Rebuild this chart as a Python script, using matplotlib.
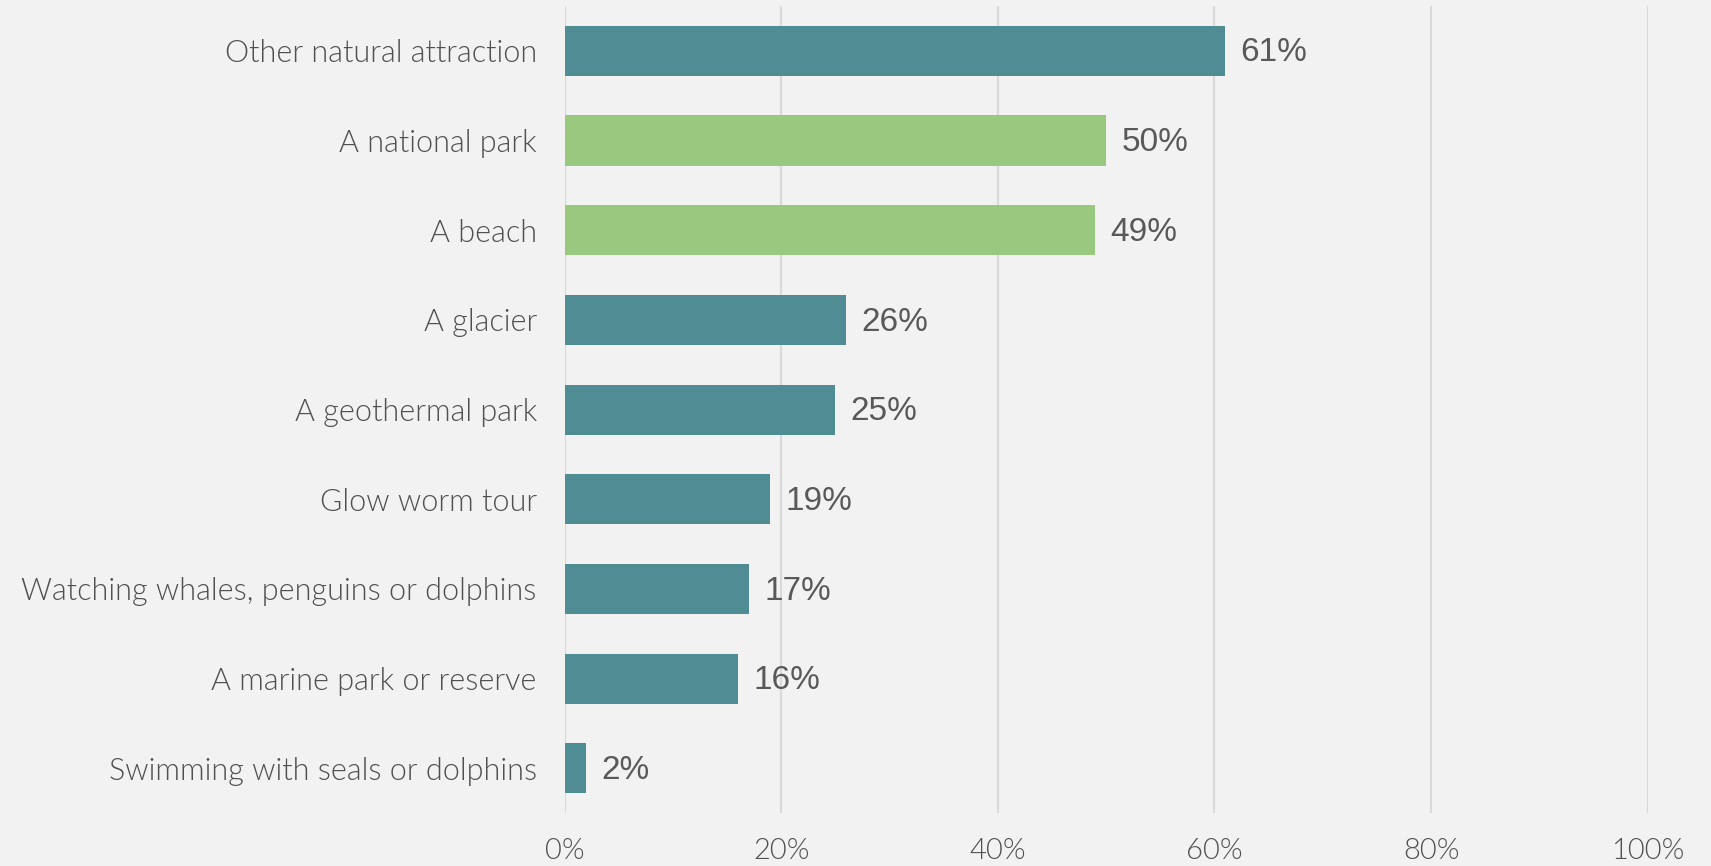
import matplotlib
matplotlib.use("Agg")
import matplotlib.pyplot as plt
from matplotlib.ticker import FuncFormatter

# survey results, top to bottom
categories = ["Other natural attraction", "A national park", "A beach", "A glacier",
              "A geothermal park", "Glow worm tour", "Watching whales, penguins or dolphins",
              "A marine park or reserve", "Swimming with seals or dolphins"]
values = [61, 50, 49, 26, 25, 19, 17, 16, 2]
highlight = ["A national park", "A beach"]

bg = "#f2f2f2"
teal = "#4f8c93"
green = "#99c97f"
text_col = "#595959"
grid_col = "#d9d9d9"

fig = plt.figure(figsize=(17.11, 8.66), dpi=100, facecolor=bg)
ax = fig.add_axes([0.330, 0.061, 0.633, 0.932])
ax.set_facecolor(bg)

colours = [green if c in highlight else teal for c in categories]
ypos = list(range(len(categories)))
bars = ax.barh(ypos, values, height=0.56, color=colours, zorder=3)

ax.set_xlim(0, 100)
ax.set_ylim(len(categories) - 0.5, -0.5)
ax.set_xticks([0, 20, 40, 60, 80, 100])
ax.xaxis.set_major_formatter(FuncFormatter(lambda v, p: f"{v:.0f}%"))
ax.set_yticks(ypos)
ax.set_yticklabels(categories)

for lab in ax.get_yticklabels():
    lab.set_fontfamily("Lato")
    lab.set_fontweight(300)
    lab.set_fontsize(22)
    lab.set_color("#505050")
for lab in ax.get_xticklabels():
    lab.set_fontfamily("Lato")
    lab.set_fontweight(300)
    lab.set_fontsize(21)
    lab.set_color("#505050")

ax.tick_params(axis="y", length=0, pad=20)
ax.tick_params(axis="x", length=0, pad=18)
ax.grid(axis="x", color=grid_col, linewidth=1.5, zorder=0)
for s in ax.spines.values():
    s.set_visible(False)

for b, v in zip(bars, values):
    ax.annotate(f"{v}%", (v, b.get_y() + b.get_height() / 2), xytext=(11, -1.5),
                textcoords="offset points", va="center", ha="left",
                fontsize=24, color=text_col, family="Liberation Sans")

fig.savefig("out.png", dpi=100, facecolor=bg)
